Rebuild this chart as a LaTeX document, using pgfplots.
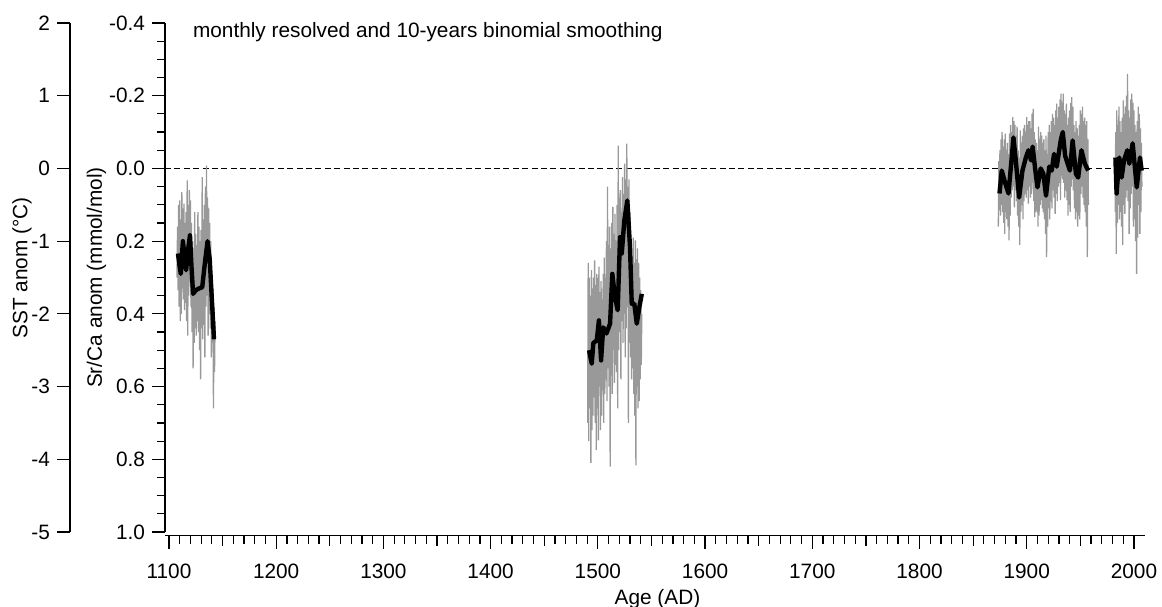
\documentclass[border=0pt]{standalone}
\usepackage{pgfplots}
\pgfplotsset{compat=1.18}
\usepackage{fontspec}
\setmainfont{Liberation Sans}
\definecolor{mgray}{RGB}{153,153,153}
\begin{document}
\begin{tikzpicture}[font=\fontsize{10.4pt}{12.5pt}\selectfont]
\useasboundingbox (-82.5pt,-37pt) rectangle (498.5pt,266pt);
\pgfplotsset{
  common/.style={scale only axis, width=490pt, anchor=south west,
    axis line style={line width=0.6pt},
    every tick/.style={line width=0.6pt, black},
    tick align=outside, major tick length=6.5pt, minor tick length=4pt,
    tick label style={font=\fontsize{10.4pt}{12.5pt}\selectfont},
    label style={font=\fontsize{10.4pt}{12.5pt}\selectfont},
  }
}
% SST axis
\begin{axis}[common, at={(-47.5pt,0pt)}, height=254.5pt,
  xmin=0, xmax=1, ymin=-5, ymax=2,
  axis x line=none, axis y line*=left,
  ytick={-5,-4,-3,-2,-1,0,1,2}, yticklabels={-5,-4,-3,-2,-1,0,1,2},
  ylabel={SST anom (°C)},
  ylabel style={at={(axis description cs:-0.0434,0.519)}, anchor=base}]
\addplot[draw=none] coordinates {(0.5,0)};
\end{axis}
% x axis
\begin{axis}[common, at={(0pt,-1.75pt)}, height=20pt,
  xmin=1096.3, xmax=2010.3, ymin=0, ymax=1,
  axis y line=none, axis x line*=bottom,
  xtick={1100,1200,1300,1400,1500,1600,1700,1800,1900,2000},
  xticklabels={1100,1200,1300,1400,1500,1600,1700,1800,1900,2000},
  xticklabel style={yshift=-4pt},
  minor x tick num=9,
  extra x ticks={1150,1250,1350,1450,1550,1650,1750,1850,1950},
  extra x tick labels={},
  extra x tick style={major tick length=5pt},
  xlabel={Age (AD)},
  xlabel style={at={(axis description cs:0.5,0)}, anchor=base, yshift=-34.25pt, xshift=1.25pt}]
\addplot[draw=none] coordinates {(1500,0.5)};
\end{axis}
% main axis
\begin{axis}[common, at={(0pt,0pt)}, height=254.5pt,
  xmin=1096.3, xmax=2010.3, ymin=-0.4, ymax=1.0, y dir=reverse,
  axis x line=none, axis y line*=left,
  ytick={-0.4,-0.2,0,0.2,0.4,0.6,0.8,1.0},
  yticklabels={-0.4,-0.2,0.0,0.2,0.4,0.6,0.8,1.0},
  minor y tick num=3,
  ylabel={Sr/Ca anom (mmol/mol)},
  ylabel style={at={(axis description cs:-0.0643,0.5)}, anchor=base},
  clip=false]
\addplot[black, line width=0.6pt, dash pattern=on 3pt off 1.7pt] coordinates {(1096.3,0) (2014.6,0)};
% gray monthly series
\addplot[mgray, line width=0.65pt] coordinates {
(1107.5,0.30)(1108,0.16)(1108.5,0.335)(1109,0.10)(1109.5,0.38)(1110,0.088)(1110.5,0.42)(1111,0.14)(1111.5,0.40)(1112,0.065)(1112.5,0.33)(1113,0.11)(1113.5,0.36)(1114,0.097)(1114.5,0.39)(1115,0.15)(1115.5,0.37)(1116,0.12)(1116.5,0.42)(1117,0.033)(1117.5,0.46)(1118,0.10)(1118.5,0.35)(1119,0.06)(1119.5,0.31)(1120,0.088)(1120.5,0.38)(1121,0.15)(1121.5,0.45)(1122,0.20)(1122.5,0.55)(1123,0.22)(1123.5,0.48)(1124,0.12)(1124.5,0.44)(1125,0.18)(1125.5,0.46)(1126,0.21)(1126.5,0.42)(1127,0.12)(1127.5,0.45)(1128,0.16)(1128.5,0.50)(1129,0.20)(1129.5,0.58)(1130,0.17)(1130.5,0.44)(1131,0.024)(1131.5,0.47)(1132,0.14)(1132.5,0.43)(1133,0.10)(1133.5,0.52)(1134,0.05)(1134.5,0.38)(1135,-0.008)(1135.5,0.35)(1136,0.08)(1136.5,0.46)(1137,0.11)(1137.5,0.40)(1138,0.15)(1138.5,0.44)(1139,0.20)(1139.5,0.52)(1140,0.30)(1140.5,0.48)(1141,0.33)(1141.5,0.66)(1142,0.38)(1142.5,0.56)(1143,0.42)
};
\addplot[mgray, line width=0.65pt] coordinates {
(1490.5,0.70)(1491,0.26)(1491.5,0.75)(1492,0.30)(1492.5,0.66)(1493,0.35)(1493.5,0.81)(1494,0.28)(1494.5,0.72)(1495,0.33)(1495.5,0.68)(1496,0.30)(1496.5,0.63)(1497,0.253)(1497.5,0.70)(1498,0.32)(1498.5,0.775)(1499,0.29)(1499.5,0.66)(1500,0.30)(1500.5,0.748)(1501,0.27)(1501.5,0.60)(1502,0.34)(1502.5,0.72)(1503,0.31)(1503.5,0.68)(1504,0.36)(1504.5,0.61)(1505,0.29)(1505.5,0.70)(1506,0.245)(1506.5,0.62)(1507,0.30)(1507.5,0.58)(1508,0.20)(1508.5,0.64)(1509,0.05)(1509.5,0.55)(1510,0.21)(1510.5,0.60)(1511,0.16)(1511.5,0.82)(1512,0.22)(1512.5,0.57)(1513,0.15)(1513.5,0.62)(1514,0.106)(1514.5,0.50)(1515,0.18)(1515.5,0.59)(1516,0.125)(1516.5,0.54)(1517,0.20)(1517.5,0.56)(1518,0.10)(1518.5,0.66)(1519,-0.063)(1519.5,0.50)(1520,0.08)(1520.5,0.45)(1521,0.06)(1521.5,0.58)(1522,0.12)(1522.5,0.42)(1523,0.024)(1523.5,0.48)(1524,0.07)(1524.5,0.40)(1525,-0.013)(1525.5,0.52)(1526,0.03)(1526.5,0.44)(1527,-0.068)(1527.5,0.38)(1528,0.05)(1528.5,0.70)(1529,0.03)(1529.5,0.48)(1530,0.12)(1530.5,0.52)(1531,0.198)(1531.5,0.58)(1532,0.24)(1532.5,0.55)(1533,0.19)(1533.5,0.62)(1534,0.26)(1534.5,0.68)(1535,0.198)(1535.5,0.817)(1536,0.25)(1536.5,0.60)(1537,0.22)(1537.5,0.66)(1538,0.26)(1538.5,0.64)(1539,0.30)(1539.5,0.58)(1540,0.335)(1540.5,0.54)(1541,0.40)
};
\addplot[mgray, line width=0.65pt] coordinates {
(1873.5,0.16)(1874,-0.02)(1874.5,0.115)(1875,-0.05)(1875.5,0.13)(1876,-0.08)(1876.5,0.10)(1877,-0.10)(1877.5,0.12)(1878,-0.06)(1878.5,0.15)(1879,-0.08)(1879.5,0.18)(1880,-0.096)(1880.5,0.12)(1881,-0.05)(1881.5,0.14)(1882,-0.07)(1882.5,0.16)(1883,-0.04)(1883.5,0.198)(1884,-0.096)(1884.5,0.13)(1885,-0.12)(1885.5,0.08)(1886,-0.10)(1886.5,0.06)(1887,-0.141)(1887.5,0.05)(1888,-0.13)(1888.5,0.107)(1889,-0.12)(1889.5,0.06)(1890,-0.09)(1890.5,0.09)(1891,-0.115)(1891.5,0.13)(1892,-0.05)(1892.5,0.16)(1893,-0.03)(1893.5,0.21)(1894,-0.105)(1894.5,0.12)(1895,-0.07)(1895.5,0.10)(1896,-0.09)(1896.5,0.14)(1897,-0.11)(1897.5,0.09)(1898,-0.12)(1898.5,0.07)(1899,-0.10)(1899.5,0.08)(1900,-0.141)(1900.5,0.06)(1901,-0.12)(1901.5,0.097)(1902,-0.13)(1902.5,0.05)(1903,-0.13)(1903.5,0.08)(1904,-0.11)(1904.5,0.07)(1905,-0.15)(1905.5,0.04)(1906,-0.164)(1906.5,0.09)(1907,-0.10)(1907.5,0.134)(1908,-0.08)(1908.5,0.12)(1909,-0.07)(1909.5,0.115)(1910,-0.05)(1910.5,0.16)(1911,-0.115)(1911.5,0.13)(1912,-0.08)(1912.5,0.10)(1913,-0.10)(1913.5,0.087)(1914,-0.09)(1914.5,0.11)(1915,-0.07)(1915.5,0.12)(1916,-0.08)(1916.5,0.14)(1917,-0.05)(1917.5,0.18)(1918,-0.09)(1918.5,0.244)(1919,-0.04)(1919.5,0.16)(1920,-0.10)(1920.5,0.11)(1921,-0.12)(1921.5,0.14)(1922,-0.10)(1922.5,0.09)(1923,-0.13)(1923.5,0.11)(1924,-0.15)(1924.5,0.06)(1925,-0.14)(1925.5,0.08)(1926,-0.12)(1926.5,0.125)(1927,-0.16)(1927.5,0.07)(1928,-0.178)(1928.5,0.09)(1929,-0.14)(1929.5,0.05)(1930,-0.17)(1930.5,0.04)(1931,-0.19)(1931.5,0.087)(1932,-0.206)(1932.5,0.02)(1933,-0.18)(1933.5,0.03)(1934,-0.206)(1934.5,0.04)(1935,-0.16)(1935.5,0.08)(1936,-0.15)(1936.5,0.06)(1937,-0.178)(1937.5,0.087)(1938,-0.12)(1938.5,0.13)(1939,-0.14)(1939.5,0.10)(1940,-0.16)(1940.5,0.12)(1941,-0.18)(1941.5,0.05)(1942,-0.196)(1942.5,0.03)(1943,-0.17)(1943.5,0.06)(1944,-0.12)(1944.5,0.11)(1945,-0.10)(1945.5,0.14)(1946,-0.13)(1946.5,0.12)(1947,-0.11)(1947.5,0.16)(1948,-0.09)(1948.5,0.13)(1949,-0.12)(1949.5,0.14)(1950,-0.16)(1950.5,0.07)(1951,-0.15)(1951.5,0.05)(1952,-0.17)(1952.5,0.08)(1953,-0.13)(1953.5,0.10)(1954,-0.14)(1954.5,0.12)(1955,-0.12)(1955.5,0.16)(1956,-0.13)(1956.5,0.244)(1957,-0.08)(1957.5,0.10)
};
\addplot[mgray, line width=0.65pt] coordinates {
(1982.5,0.12)(1983,-0.10)(1983.5,0.235)(1984,-0.16)(1984.5,0.15)(1985,-0.12)(1985.5,0.10)(1986,-0.17)(1986.5,0.14)(1987,-0.13)(1987.5,0.12)(1988,-0.10)(1988.5,0.16)(1989,-0.14)(1989.5,0.21)(1990,-0.187)(1990.5,0.10)(1991,-0.15)(1991.5,0.125)(1992,-0.17)(1992.5,0.08)(1993,-0.20)(1993.5,0.06)(1994,-0.26)(1994.5,0.09)(1995,-0.16)(1995.5,0.18)(1996,-0.14)(1996.5,0.11)(1997,-0.19)(1997.5,0.07)(1998,-0.206)(1998.5,0.05)(1999,-0.18)(1999.5,0.16)(2000,-0.16)(2000.5,0.14)(2001,-0.12)(2001.5,0.20)(2002,-0.10)(2002.5,0.29)(2003,-0.13)(2003.5,0.19)(2004,-0.17)(2004.5,0.10)(2005,-0.15)(2005.5,0.18)(2006,-0.11)(2006.5,0.12)(2007,-0.07)(2007.4,0.05)
};
% smoothed series
\addplot[black, line width=2.2pt, line join=round] coordinates {
(1108.4,0.234)(1109.5,0.26)(1111,0.29)(1113,0.20)(1114.5,0.24)(1116,0.28)(1118,0.22)(1119.6,0.184)(1121,0.27)(1122.5,0.345)(1125,0.335)(1128,0.33)(1131,0.327)(1133.5,0.26)(1136,0.20)(1138,0.25)(1140,0.36)(1142,0.47)
};
\addplot[black, line width=2.2pt, line join=round] coordinates {
(1491.8,0.50)(1494.3,0.537)(1495.8,0.48)(1499,0.473)(1501,0.418)(1503,0.528)(1505,0.437)(1508,0.454)(1511.4,0.427)(1513.5,0.29)(1516,0.354)(1518.5,0.39)(1520.7,0.189)(1522.3,0.234)(1524.7,0.143)(1527.5,0.088)(1530,0.217)(1531.6,0.372)(1534,0.372)(1536.3,0.427)(1538.8,0.38)(1541,0.345)
};
\addplot[black, line width=2.2pt, line join=round] coordinates {
(1874.6,0.069)(1876.7,0.006)(1879.9,0.04)(1883,0.069)(1886,-0.03)(1887.6,-0.085)(1889.8,-0.022)(1892.9,0.08)(1896,0.006)(1899.2,-0.03)(1901.6,-0.05)(1904,-0.022)(1905.5,-0.06)(1907.8,0.0)(1910,0.052)(1913,0.0)(1915.5,0.015)(1918,0.075)(1921,-0.005)(1923.3,0.006)(1925.5,-0.04)(1928,-0.005)(1931.7,-0.077)(1933.6,-0.1)(1935.8,-0.035)(1937.2,-0.022)(1940.3,0.006)(1942.8,-0.077)(1945.9,0.015)(1948,0.025)(1951,-0.05)(1954.2,-0.013)(1957.3,0.006)
};
\addplot[black, line width=2.2pt, line join=round] coordinates {
(1982.7,-0.03)(1983.8,0.069)(1986.3,-0.03)(1988.5,0.025)(1990.7,-0.022)(1993.8,-0.05)(1995.7,-0.013)(1998.8,-0.069)(2002.6,0.052)(2005.6,-0.03)(2007.2,0.006)
};
\node[anchor=base west, inner sep=0pt] at (axis cs:1122.1,-0.361) {monthly resolved and 10-years binomial smoothing};
\end{axis}
\end{tikzpicture}
\end{document}
